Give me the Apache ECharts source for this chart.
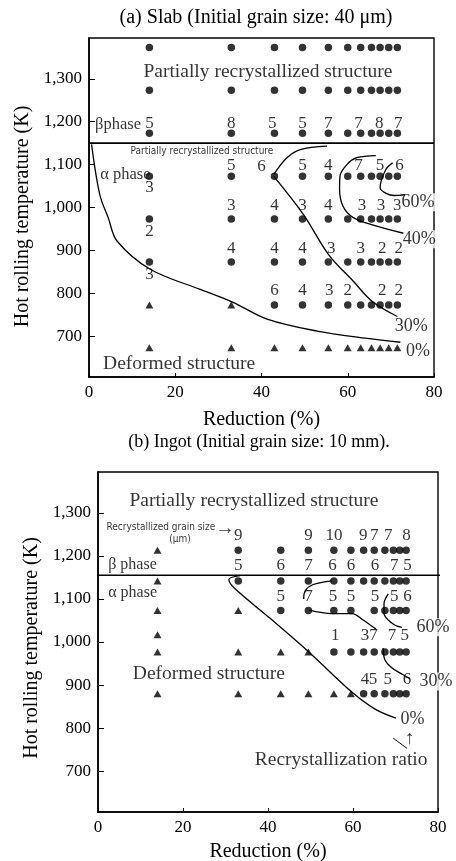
<!DOCTYPE html>
<html>
<head>
<meta charset="utf-8">
<script src="https://cdn.jsdelivr.net/npm/echarts@6/dist/echarts.min.js"></script>
<style>
  html, body { margin: 0; background: #fff; }
  #chart { width: 456px; height: 861px; }
</style>
</head>
<body>
<div id="chart"></div>
<script>
const serif = '"Liberation Serif", "DejaVu Serif", serif';
const narrow = '"Liberation Sans Narrow", "DejaVu Sans Condensed", sans-serif';

// axis ticks
const yTickValues = [700, 800, 900, 1000, 1100, 1200, 1300];
const xTickValues = [0, 20, 40, 60, 80];

// (a) slab: rolling temperatures (K) and reductions (%)
const slabTemps = [1373, 1273, 1173, 1073, 973, 873, 773, 673];
const slabCols = [14, 33, 43, 49.5, 55.5, 60, 63, 65.5, 67.5, 69.5, 71.5];
const slabDotCols = [slabCols, slabCols, slabCols, slabCols, slabCols, slabCols,
  [43, 49.5, 55.5, 60, 63, 65.5, 67.5, 69.5, 71.5], []];
const slabTriCols = [[], [], [], [], [], [], [14, 33], slabCols];

// recrystallized grain size labels (um): [reduction, temp, text]
const slabGrain = [
  [14, 1195, '5'], [33, 1195, '8'], [42.5, 1195, '5'], [49.5, 1195, '5'], [55.5, 1195, '7'],
  [62.5, 1195, '7'], [67.3, 1195, '8'], [71.7, 1195, '7'],
  [33, 1098, '5'], [40, 1095, '6'], [49.5, 1098, '5'], [55.5, 1098, '4'], [62.5, 1098, '7'],
  [67.5, 1098, '5'], [72, 1098, '6'],
  [14, 1047, '3'], [14, 944, '2'], [14, 844, '3'],
  [33, 1005, '3'], [43, 1005, '4'], [49.5, 1005, '3'], [55.5, 1005, '4'], [63.3, 1005, '3'],
  [67.7, 1005, '3'], [71.5, 1005, '3'],
  [33, 905, '4'], [43, 905, '4'], [49.5, 905, '4'], [56.2, 905, '3'], [63, 905, '3'],
  [68, 905, '2'], [71.8, 905, '2'],
  [43, 807, '6'], [49.5, 807, '4'], [55.7, 807, '3'], [60, 807, '2'], [68, 807, '2'], [71.8, 807, '2']
];

// recrystallization ratio curves
const slabCurve0 = [[0.6, 1147], [2.5, 1030], [4.5, 975], [6.5, 922], [14.2, 856], [25.8, 809],
  [33.4, 779], [41.3, 740], [52.9, 712], [64.5, 695], [72.2, 686]];
const slabCurve30 = [[42.9, 1072], [49.7, 984], [55.5, 891], [61.3, 828], [65.7, 781], [71.5, 746]];
const slabArc = [[42.9, 1078], [45.9, 1116], [49, 1135], [55.2, 1143]];
const slabCurve40 = [[66.5, 1121], [62.1, 1116], [59.8, 1100], [58.2, 1073], [58.1, 1042],
  [58.9, 1003], [61.2, 977], [65.5, 960], [72.9, 940]];
const slabCurve60 = [[70.4, 1104], [68.8, 1088], [67.5, 1046], [68.9, 1033], [70.8, 1028], [73.3, 1030]];
const slabRatio = [[76.3, 1012, '60%'], [76.6, 926, '40%'], [74.7, 723, '30%'], [76.3, 665, '0%']];
const slabText = [
  [41.5, 1316, 'Partially recrystallized structure'],
  [20.9, 635, 'Deformed structure']
];

// (b) ingot
const ingotTemps = [1213, 1142, 1073, 1017, 977, 880];
const ingotCols = [33, 43, 49.5, 55.5, 59.5, 62.5, 65, 67.5, 69.5, 71, 72.5];
const ingotDotCols = [ingotCols, ingotCols,
  [43, 49.5, 55.5, 59.5, 65, 67.5, 69.5, 71, 72.5], [],
  [55.5, 59.5, 62.5, 65, 67.5, 69.5, 71, 72.5],
  [62.5, 65, 67.5, 69.5, 71, 72.5]];
const ingotTriCols = [[14], [14], [14, 33], [14], [14, 33, 43, 49.5], [14, 33, 43, 49.5, 55.5, 59.5]];

const ingotGrain = [
  [33, 1248, '9'], [49.5, 1248, '9'], [55.5, 1248, '10'], [62.4, 1248, '9'], [65, 1248, '7'],
  [68.3, 1248, '7'], [72.6, 1248, '8'],
  [33, 1177, '5'], [43, 1177, '6'], [49.5, 1177, '7'], [55.2, 1177, '6'], [59.5, 1177, '6'],
  [65.2, 1177, '6'], [69.7, 1177, '7'], [72.8, 1177, '5'],
  [43, 1105, '5'], [49.5, 1105, '7'], [55.3, 1105, '5'], [59.5, 1105, '5'], [65.2, 1105, '5'],
  [69.7, 1105, '5'], [72.8, 1105, '6'],
  [55.8, 1016, '1'], [62.8, 1016, '3'], [64.8, 1016, '7'], [69.2, 1016, '7'], [72.2, 1016, '5'],
  [62.8, 912, '4'], [64.7, 912, '5'], [68.2, 912, '5'], [72.7, 912, '6']
];

const ingotCurve0 = [[33.4, 1154], [30.8, 1145], [32, 1126], [40.5, 1055], [49.6, 977],
  [59.8, 883], [65.2, 844], [70.1, 823]];
const ingotCurve30 = [[67.1, 986], [67.5, 959], [69.1, 940], [71.8, 924], [73.4, 915]];
const ingotCurve60 = [[68.3, 1112], [67.3, 1089], [67.3, 1067], [68.3, 1051], [69.9, 1039], [71.5, 1034]];
const ingotLinkA = [[48.4, 1100], [48.7, 1118], [50.5, 1133], [55.1, 1142]];
const ingotLinkB = [[49.6, 1074], [55.1, 1066], [59.8, 1066], [62.1, 1053], [65.4, 1030]];
const ingotLeader = [[69.4, 777], [72.7, 753]];
const ingotRatio = [[74, 821, '0%'], [79.5, 908, '30%'], [78.8, 1034, '60%']];
const ingotText = [
  [36.7, 1329, 'Partially recrystallized structure'],
  [26.1, 926, 'Deformed structure'],
  [57.2, 726, 'Recrystallization ratio'],
  [73.4, 776, '↑'],
  [29.9, 1262, '→']
];

function pairs(temps, cols) {
  const out = [];
  temps.forEach((t, i) => cols[i].forEach(x => out.push([x, t])));
  return out;
}

function dots(data, g) {
  return { type: 'scatter', xAxisIndex: g, yAxisIndex: g, symbol: 'circle', symbolSize: 7.5,
    itemStyle: { color: '#000' }, data, silent: true };
}
function tris(data, g) {
  return { type: 'scatter', xAxisIndex: g, yAxisIndex: g, symbol: 'triangle', symbolSize: [8, 7],
    itemStyle: { color: '#000' }, data, silent: true };
}
function curve(data, g, width) {
  return { type: 'line', xAxisIndex: g, yAxisIndex: g, data, smooth: 0.35, symbol: 'none',
    clip: false, silent: true, lineStyle: { color: '#000', width: width || 1.3 } };
}
function texts(rows, g, style) {
  return { type: 'scatter', xAxisIndex: g, yAxisIndex: g, symbolSize: 0, clip: false, silent: true,
    data: rows.map(r => ({ value: [r[0], r[1]], name: r[2] })),
    label: Object.assign({ show: true, position: 'inside', formatter: '{b}', color: '#000',
      fontFamily: serif, fontSize: 17 }, style || {}) };
}
function leftTexts(rows, g, style) {
  const s = texts(rows, g, style);
  s.label.position = 'right';
  s.label.distance = 0;
  return s;
}

const grids = [
  { left: 89, top: 38, width: 345, height: 339 },
  { left: 98, top: 472, width: 340, height: 340 }
];
// the axis titles sit a little below the middle of each frame
const yNameShift = [18, 12];
const xNameGap = [33, 30];

const xAxes = grids.map((g, i) => ({
  type: 'value', gridIndex: i, min: 0, max: 80, interval: 20,
  name: 'Reduction (%)', nameLocation: 'middle', nameGap: xNameGap[i],
  nameTextStyle: { fontFamily: serif, fontSize: 20, color: '#000' },
  axisLine: { lineStyle: { color: '#000', width: 1.6 } },
  axisTick: { inside: true, length: 4, lineStyle: { color: '#000' } },
  axisLabel: { fontFamily: serif, fontSize: 17, color: '#000', margin: 7 },
  splitLine: { show: false }
}));

const yAxes = grids.map((g, i) => ({
  type: 'value', gridIndex: i, min: 605, max: 1395,
  name: 'Hot rolling temperature (K)', nameLocation: 'middle', nameGap: 47,
  nameTextStyle: { fontFamily: serif, fontSize: 20, color: '#000', padding: [0, yNameShift[i], 0, 0] },
  axisLine: { lineStyle: { color: '#000', width: 1.6 } },
  axisTick: { inside: true, length: 6, customValues: yTickValues, lineStyle: { color: '#000' } },
  axisLabel: { customValues: yTickValues, fontFamily: serif, fontSize: 17, color: '#000', margin: 7,
    formatter: v => v >= 1000 ? Math.floor(v / 1000) + ',' + String(v % 1000).padStart(3, '0') : String(v) },
  splitLine: { show: false }
}));

const ratioStyle = { fontSize: 18, backgroundColor: '#fff', padding: [0, 1] };
const smallNarrow = { fontFamily: narrow, fontSize: 10 };
const bigText = { fontSize: 19.5 };

const series = [
  // (a)
  curve([[0, 1150], [80, 1150]], 0, 1.6),
  curve(slabCurve0, 0), curve(slabCurve30, 0), curve(slabArc, 0),
  curve(slabCurve40, 0), curve(slabCurve60, 0),
  dots(pairs(slabTemps, slabDotCols), 0),
  tris(pairs(slabTemps, slabTriCols), 0),
  texts(slabGrain, 0),
  texts(slabRatio, 0, ratioStyle),
  texts(slabText, 0, bigText),
  leftTexts([[1.4, 1193, 'βphase'], [2.6, 1077, 'α phase']], 0, { fontSize: 16.5 }),
  texts([[26.2, 1130, 'Partially recrystallized structure']], 0, smallNarrow),
  // (b)
  curve([[0, 1155], [84, 1155]], 1, 1.6),
  curve(ingotCurve0, 1), curve(ingotCurve30, 1), curve(ingotCurve60, 1),
  curve(ingotLinkA, 1), curve(ingotLinkB, 1), curve(ingotLeader, 1, 1),
  dots(pairs(ingotTemps, ingotDotCols), 1),
  tris(pairs(ingotTemps, ingotTriCols), 1),
  texts(ingotGrain, 1),
  texts(ingotRatio, 1, ratioStyle),
  texts(ingotText, 1, bigText),
  leftTexts([[2.4, 1179, 'β phase'], [2.4, 1115, 'α phase']], 1, { fontSize: 16 }),
  texts([[14.8, 1267, 'Recrystallized grain size'], [19.3, 1239, '(μm)']], 1, smallNarrow)
];

const chart = echarts.init(document.getElementById('chart'), null, { renderer: 'canvas' });
chart.setOption({
  animation: false,
  backgroundColor: '#fff',
  title: [
    { text: '(a) Slab (Initial grain size: 40 μm)', left: 251, top: 3, textAlign: 'center',
      textStyle: { fontFamily: serif, fontSize: 20, fontWeight: 'normal', color: '#000' } },
    { text: '(b) Ingot (Initial grain size: 10 mm).', left: 254, top: 428, textAlign: 'center',
      textStyle: { fontFamily: serif, fontSize: 18, fontWeight: 'normal', color: '#000' } }
  ],
  grid: grids.map(g => Object.assign({ show: true, borderColor: '#000', borderWidth: 1.4,
    backgroundColor: 'transparent', containLabel: false, outerBoundsMode: 'none' }, g)),
  xAxis: xAxes,
  yAxis: yAxes,
  series
});
</script>
</body>
</html>
